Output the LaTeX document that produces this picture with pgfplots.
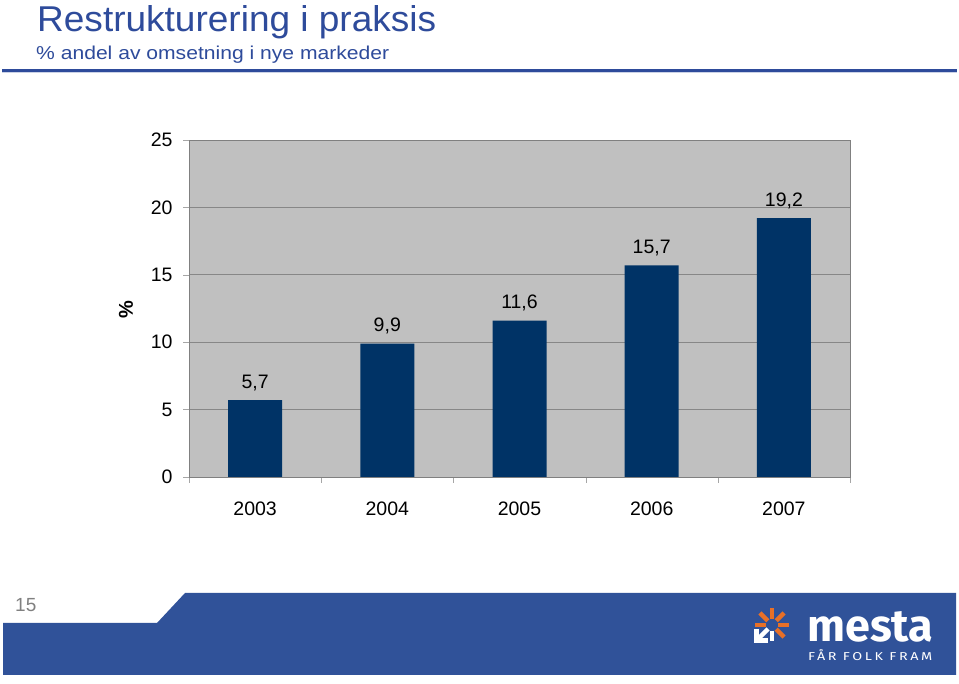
\documentclass[border=0pt]{standalone}
\usepackage{pgfplots}
\pgfplotsset{compat=1.18}
\usepackage{fontspec}
\setmainfont{Liberation Sans}
\newfontfamily\logofont{Fira Sans}
\definecolor{titleblue}{RGB}{46,75,155}
\definecolor{bannerblue}{RGB}{48,82,153}
\definecolor{barblue}{RGB}{0,51,102}
\definecolor{plotgray}{RGB}{192,192,192}
\definecolor{gridgray}{RGB}{135,135,135}
\definecolor{mestaorange}{RGB}{232,112,40}
\begin{document}
\begin{tikzpicture}[x=1pt,y=1pt]
\useasboundingbox (0,0) rectangle (959,684);
\fill[white] (0,0) rectangle (959,684);
% title and subtitle
\node[anchor=base west, inner sep=0, text=titleblue] at (37,684-32) {\resizebox{399pt}{26pt}{Restrukturering i praksis}};
\node[anchor=base west, inner sep=0, text=titleblue] at (36,684-60) {\resizebox{353pt}{13.5pt}{\% andel av omsetning i nye markeder}};
\draw[titleblue, line width=2.5pt] (2,684-70.5) -- (957,684-70.5);
\draw[titleblue!25, line width=1pt] (2,684-73) -- (957,684-73);
% banner
\fill[bannerblue] (3,684-675) -- (3,684-623) -- (157,684-623) -- (185,684-593) -- (956,684-593) -- (956,684-675) -- cycle;
\node[anchor=base west, inner sep=0, text=gray] at (15,684-612) {\fontsize{19}{19}\selectfont 15};
% logo
\begin{scope}[shift={(772,684-625)}]
\foreach \a in {90,45,0,-45,135,180}{\draw[mestaorange, line width=4.5pt] (\a:6) -- (\a:17);}
\draw[white, line width=4.5pt] (-90:6) -- (-90:16);
\draw[white, line width=4.5pt] (-4,-4) -- (-14,-14);
\draw[white, line width=5pt, miter limit=10] (-16,-4) -- (-16,-16) -- (-4,-16);
\end{scope}
\node[anchor=base west, inner sep=0, text=white] at (807,684-642) {\resizebox{126pt}{30pt}{\logofont\bfseries mesta}};
\node[anchor=base west, inner sep=0, text=white] at (808,684-661) {\resizebox{124pt}{11pt}{\logofont\addfontfeature{LetterSpace=18}FÅR FOLK FRAM}};
% y label
\node[rotate=90, font=\fontsize{20}{20}\selectfont\bfseries] at (126,684-310) {\%};
\begin{axis}[
  at={(189pt,207pt)}, anchor=south west,
  scale only axis, width=661pt, height=337pt,
  xmin=-0.5, xmax=4.5, ymin=0, ymax=25,
  ybar, bar width=54pt,
  axis background/.style={fill=plotgray},
  axis line style={draw=gray},
  ytick={0,5,...,25},
  xtick={-0.5,0.5,...,4.5},
  xticklabels={2003,2004,2005,2006,2007},
  x tick label as interval,
  tick pos=left,
  tick align=outside, major tick length=6pt,
  tick style={draw=gray!70},
  ymajorgrids, xmajorgrids=false,
  grid style={draw=gridgray, line width=0.8pt},
  /pgf/number format/assume math mode=true,
  ticklabel style={font=\fontsize{19.5}{20}\selectfont},
  yticklabel style={xshift=-7pt},
  xticklabel style={yshift=-15pt},
  point meta=y,
  nodes near coords={\pgfmathprintnumber[fixed,fixed zerofill,precision=1,use comma,assume math mode=true]{\pgfplotspointmeta}},
  every node near coord/.append style={font=\fontsize{19.5}{20}\selectfont, text=black, yshift=6pt},
]
\addplot[fill=barblue, draw=none] coordinates {(0,5.7) (1,9.9) (2,11.6) (3,15.7) (4,19.2)};
\end{axis}
\end{tikzpicture}
\end{document}
